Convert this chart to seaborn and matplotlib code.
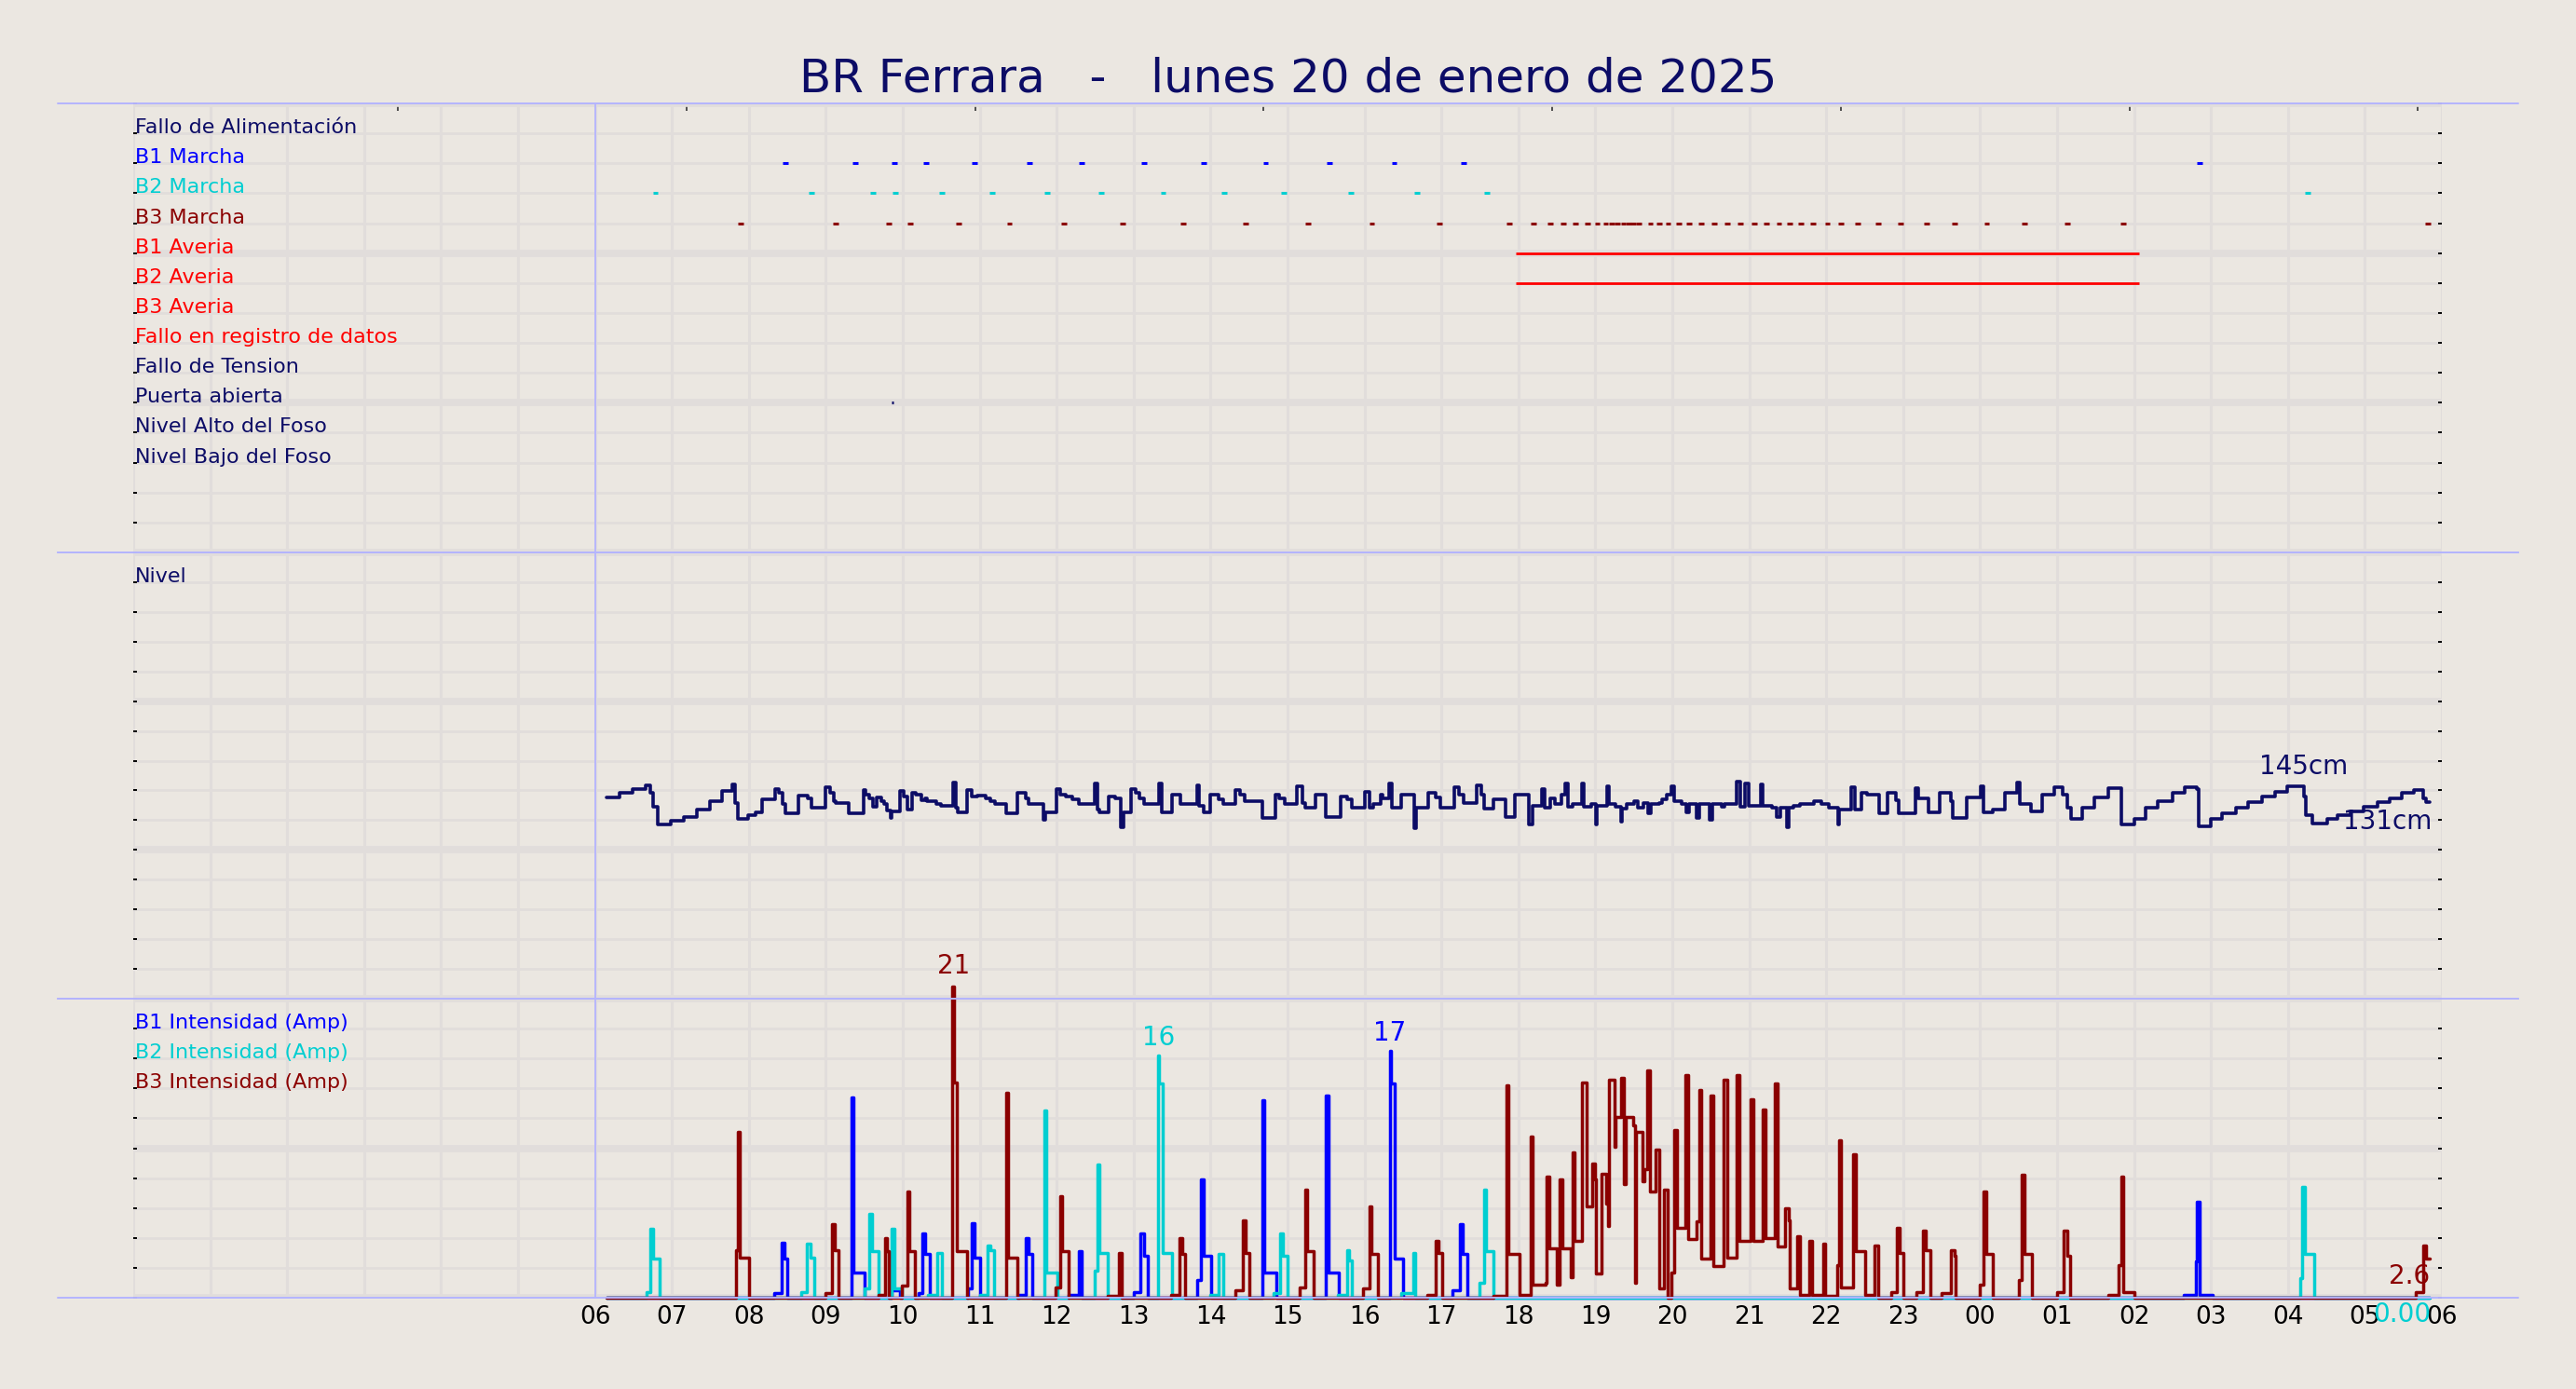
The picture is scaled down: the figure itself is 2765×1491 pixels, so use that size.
import matplotlib
matplotlib.use("Agg")
import matplotlib.pyplot as plt
import seaborn as sns
from matplotlib.lines import Line2D

# eje x: horas desde las 00:00 del 20/01/2025
titulo = "BR Ferrara   -   lunes 20 de enero de 2025"

filas = ["Fallo de Alimentación", "B1 Marcha", "B2 Marcha", "B3 Marcha",
         "B1 Averia", "B2 Averia", "B3 Averia", "Fallo en registro de datos",
         "Fallo de Tension", "Puerta abierta", "Nivel Alto del Foso",
         "Nivel Bajo del Foso"]
navy = "#0c0c66"
azul, cian, granate, rojo = "#0000ff", "#00ced1", "#8b0000", "#ff0000"
colores_filas = [navy, azul, cian, granate, rojo, rojo, rojo, rojo,
                 navy, navy, navy, navy]

# arranques (marcha) de cada bomba
b1_marcha = [8.44, 9.35, 9.86, 10.27, 10.90, 11.61, 12.29, 13.10, 13.88,
             14.68, 15.51, 16.35, 17.25, 26.82]
b2_marcha = [6.75, 8.78, 9.58, 9.87, 10.47, 11.13, 11.84, 12.54, 13.35,
             14.14, 14.92, 15.79, 16.65, 17.56, 28.22]
b3_marcha = [7.86, 9.09, 9.78, 10.06, 10.69, 11.35, 12.06, 12.82, 13.61,
             14.42, 15.23, 16.06, 16.94, 17.85, 18.16, 18.38, 18.55, 18.71,
             18.86, 18.99, 19.10, 19.18, 19.25, 19.33, 19.40, 19.46, 19.53,
             19.68, 19.80, 19.91, 20.05, 20.18, 20.34, 20.51, 20.68, 20.85,
             21.03, 21.19, 21.35, 21.49, 21.64, 21.79, 21.98, 22.16, 22.37,
             22.64, 22.93, 23.27, 23.63, 24.05, 24.54, 25.10, 25.82, 29.78]
puerta_abierta = [9.85]
b1_averia = (17.97, 26.06)
b2_averia = (17.97, 26.06)

# nivel del foso (cm)
nivel = [(6.15, 141.1), (6.32, 142.5), (6.49, 144.0), (6.66, 145.1), (6.72, 142.8),
         (6.76, 138.0), (6.82, 132.1), (6.99, 133.3), (7.16, 134.5), (7.32, 137.0),
         (7.49, 139.7), (7.65, 143.2), (7.78, 145.6), (7.82, 139.3), (7.86, 133.8),
         (7.99, 135.2), (8.09, 136.2), (8.17, 140.6), (8.34, 144.0), (8.39, 142.5),
         (8.44, 139.0), (8.48, 135.9), (8.65, 141.7), (8.76, 140.9), (8.81, 137.8),
         (8.99, 144.5), (9.05, 142.5), (9.10, 139.9), (9.13, 139.3), (9.30, 135.7),
         (9.49, 143.5), (9.52, 141.9), (9.56, 140.9), (9.61, 138.0), (9.66, 141.1),
         (9.72, 139.9), (9.76, 138.8), (9.79, 136.8), (9.84, 134.2), (9.86, 136.5),
         (9.96, 143.2), (10.01, 141.4), (10.06, 137.0), (10.12, 142.5), (10.17, 141.9),
         (10.24, 140.1), (10.29, 140.7), (10.32, 139.7), (10.44, 139.0), (10.50, 138.3),
         (10.65, 146.1), (10.69, 137.8), (10.71, 136.2), (10.83, 143.5), (10.89, 141.4),
         (10.97, 141.7), (11.08, 140.9), (11.14, 139.9), (11.20, 139.0), (11.34, 135.7),
         (11.49, 142.8), (11.60, 140.9), (11.64, 139.0), (11.83, 133.6), (11.85, 136.2),
         (12.00, 143.8), (12.05, 141.9), (12.12, 141.4), (12.20, 140.4), (12.29, 139.0),
         (12.49, 145.9), (12.53, 137.0), (12.56, 136.2), (12.68, 141.4), (12.76, 140.9),
         (12.83, 131.0), (12.87, 136.2), (12.97, 144.0), (13.03, 142.8), (13.08, 140.9),
         (13.13, 139.0), (13.33, 145.9), (13.36, 136.2), (13.50, 142.1), (13.61, 139.0),
         (13.82, 145.1), (13.85, 138.3), (13.91, 136.2), (13.99, 141.9), (14.10, 140.4),
         (14.16, 138.8), (14.32, 143.5), (14.38, 141.9), (14.44, 139.9), (14.67, 134.2),
         (14.84, 142.1), (14.89, 140.9), (14.96, 138.8), (15.12, 144.8), (15.19, 139.3),
         (15.23, 137.6), (15.36, 141.9), (15.50, 134.7), (15.69, 141.4), (15.78, 140.4),
         (15.83, 137.6), (16.00, 143.0), (16.06, 137.8), (16.11, 139.0), (16.21, 141.9),
         (16.24, 140.9), (16.32, 145.9), (16.35, 137.8), (16.48, 142.1), (16.65, 130.7),
         (16.67, 137.8), (16.83, 142.5), (16.92, 141.1), (16.98, 137.6), (17.17, 144.5),
         (17.23, 141.9), (17.29, 139.3), (17.46, 145.1), (17.52, 141.9), (17.56, 137.3),
         (17.68, 140.4), (17.83, 134.7), (17.96, 141.9), (18.14, 132.1), (18.18, 138.3),
         (18.31, 144.0), (18.34, 137.8), (18.41, 140.9), (18.47, 138.8), (18.56, 141.9),
         (18.61, 145.9), (18.64, 138.0), (18.70, 138.8), (18.82, 145.9), (18.85, 138.0),
         (18.95, 138.8), (19.01, 132.1), (19.02, 138.3), (19.15, 144.8), (19.18, 138.8),
         (19.26, 138.0), (19.33, 133.1), (19.35, 137.3), (19.41, 138.8), (19.50, 139.7),
         (19.55, 137.8), (19.63, 139.3), (19.68, 135.7), (19.72, 138.8), (19.83, 139.3),
         (19.87, 140.4), (19.93, 142.1), (19.99, 144.8), (20.03, 139.7), (20.12, 138.8),
         (20.18, 136.2), (20.22, 139.0), (20.32, 134.2), (20.35, 138.8), (20.49, 133.6),
         (20.52, 138.8), (20.64, 138.0), (20.68, 138.8), (20.84, 146.3), (20.88, 138.0),
         (20.95, 145.9), (20.99, 138.3), (21.15, 145.6), (21.18, 138.3), (21.30, 137.8),
         (21.35, 134.7), (21.40, 137.8), (21.49, 131.0), (21.51, 137.8), (21.57, 138.3),
         (21.66, 138.8), (21.84, 139.9), (21.94, 138.8), (22.03, 137.8), (22.16, 132.1),
         (22.17, 137.0), (22.33, 144.5), (22.37, 137.0), (22.46, 142.5), (22.53, 141.9),
         (22.69, 135.9), (22.80, 142.8), (22.90, 140.1), (22.94, 135.9), (23.16, 144.2),
         (23.20, 140.9), (23.33, 136.2), (23.48, 142.5), (23.62, 139.7), (23.65, 134.2),
         (23.82, 141.1), (24.01, 144.8), (24.04, 136.2), (24.16, 137.0), (24.32, 142.5),
         (24.48, 146.1), (24.52, 138.8), (24.66, 136.5), (24.81, 141.9), (24.96, 144.5),
         (25.07, 141.9), (25.13, 137.8), (25.18, 133.8), (25.33, 137.8), (25.49, 141.1),
         (25.66, 144.2), (25.83, 132.1), (26.00, 134.0), (26.15, 137.6), (26.31, 139.9),
         (26.50, 142.5), (26.66, 144.5), (26.82, 144.0), (26.84, 131.6), (27.00, 133.9),
         (27.14, 135.9), (27.32, 137.8), (27.48, 139.6), (27.66, 141.4), (27.83, 143.0),
         (27.99, 144.8), (28.21, 141.4), (28.23, 135.2), (28.32, 132.4), (28.51, 133.9),
         (28.65, 135.2), (28.81, 136.5), (28.98, 138.0), (29.16, 139.6), (29.32, 140.9),
         (29.48, 142.5), (29.64, 143.5), (29.76, 140.9), (29.79, 139.4), (29.84, 139.4)]

# intensidad de cada bomba (A)
b1_amp = [(6.15, 0), (8.33, 0.3), (8.43, 3.7), (8.46, 2.6), (8.50, 0),
          (9.33, 13.4), (9.36, 1.7), (9.50, 0), (9.86, 0.5), (9.96, 0),
          (10.20, 0.3), (10.25, 4.3), (10.29, 2.9), (10.35, 0),
          (10.85, 0.6), (10.90, 5.0), (10.93, 2.7), (11.00, 0),
          (11.51, 0.2), (11.60, 4.0), (11.63, 2.9), (11.68, 0),
          (12.16, 0.2), (12.29, 3.1), (12.33, 0),
          (13.00, 0.4), (13.09, 4.3), (13.13, 2.8), (13.18, 0),
          (13.82, 1.2), (13.88, 7.9), (13.91, 2.8), (14.01, 0),
          (14.67, 13.2), (14.70, 1.7), (14.86, 0),
          (15.50, 13.5), (15.53, 1.7), (15.67, 0),
          (16.33, 16.5), (16.345, 14.3), (16.39, 2.6), (16.50, 0),
          (17.14, 0.5), (17.24, 4.9), (17.27, 2.9), (17.34, 0),
          (26.65, 0.2), (26.80, 2.4), (26.82, 6.4), (26.85, 0.2), (27.02, 0),
          (29.84, 0)]
b2_amp = [(6.15, 0), (6.67, 0.4), (6.72, 4.6), (6.76, 2.6), (6.84, 0),
          (8.68, 0.4), (8.75, 3.6), (8.80, 2.7), (8.85, 0),
          (9.50, 0.6), (9.57, 5.6), (9.60, 3.1), (9.68, 0),
          (9.86, 4.6), (9.89, 0.6), (9.99, 0),
          (10.33, 0.2), (10.45, 3.0), (10.51, 0),
          (11.00, 0.2), (11.10, 3.5), (11.14, 3.2), (11.19, 0),
          (11.84, 12.5), (11.87, 1.7), (12.01, 0),
          (12.49, 1.8), (12.53, 8.9), (12.56, 3.0), (12.66, 0),
          (13.32, 16.2), (13.335, 14.3), (13.38, 3.0), (13.50, 0),
          (13.99, 0.2), (14.11, 2.9), (14.17, 0),
          (14.82, 0.3), (14.90, 4.3), (14.94, 2.8), (15.00, 0),
          (15.65, 0.2), (15.77, 3.2), (15.80, 2.5), (15.83, 0),
          (16.48, 0.3), (16.64, 3.0), (16.66, 0),
          (17.49, 1.0), (17.55, 7.2), (17.58, 3.1), (17.67, 0),
          (28.16, 1.3), (28.19, 7.4), (28.22, 2.9), (28.34, 0), (29.84, 0)]
b3_amp = [(6.15, 0), (7.83, 3.2), (7.86, 11.1), (7.88, 2.7), (8.00, 0),
          (9.00, 0.3), (9.08, 4.9), (9.12, 3.2), (9.16, 0),
          (9.68, 0.2), (9.77, 4.0), (9.79, 3.1), (9.82, 0),
          (9.99, 0.8), (10.06, 7.1), (10.09, 3.1), (10.16, 0),
          (10.64, 20.8), (10.66, 14.4), (10.70, 3.1), (10.84, 0),
          (11.34, 13.7), (11.37, 2.7), (11.49, 0),
          (11.99, 0.7), (12.04, 6.8), (12.07, 3.1), (12.16, 0),
          (12.66, 0.1), (12.81, 3.0), (12.84, 0),
          (13.49, 0.2), (13.60, 4.0), (13.63, 2.9), (13.67, 0),
          (14.32, 0.5), (14.42, 5.2), (14.45, 3.0), (14.50, 0),
          (15.16, 0.7), (15.23, 7.2), (15.26, 3.1), (15.34, 0),
          (15.98, 0.6), (16.06, 6.1), (16.09, 2.9), (16.17, 0),
          (16.81, 0.2), (16.93, 3.8), (16.96, 3.0), (17.01, 0),
          (17.67, 0.1), (17.84, 14.2), (17.87, 2.9), (18.01, 0.2), (18.16, 10.8),
          (18.19, 0.9), (18.35, 1.0), (18.37, 8.1), (18.40, 3.3), (18.50, 0.9),
          (18.53, 7.9), (18.57, 3.3), (18.68, 1.4), (18.71, 9.7), (18.73, 3.8),
          (18.83, 14.4), (18.89, 6.1), (18.96, 9.0), (18.99, 7.9), (19.01, 1.6),
          (19.08, 8.3), (19.14, 6.3), (19.17, 4.8), (19.18, 14.6), (19.25, 10.1),
          (19.26, 12.1), (19.33, 14.7), (19.37, 7.6), (19.40, 12.1), (19.49, 11.5),
          (19.51, 1.0), (19.53, 11.1), (19.61, 7.8), (19.64, 8.6), (19.67, 15.2),
          (19.71, 7.1), (19.78, 9.9), (19.83, 0.6), (19.89, 7.2), (19.94, 0),
          (19.99, 1.7), (20.03, 11.2), (20.06, 4.7), (20.17, 14.9), (20.20, 3.9),
          (20.32, 5.1), (20.35, 13.9), (20.37, 2.6), (20.50, 13.5), (20.53, 2.1),
          (20.67, 14.6), (20.71, 2.7), (20.83, 14.9), (20.87, 3.8), (21.02, 13.3),
          (21.05, 3.8), (21.17, 12.6), (21.21, 4.0), (21.33, 14.3), (21.37, 3.4),
          (21.47, 6.0), (21.51, 5.2), (21.53, 0.6), (21.62, 4.1), (21.66, 0.2),
          (21.78, 3.8), (21.82, 0.2), (21.96, 3.6), (21.99, 0.1), (22.14, 2.2),
          (22.17, 10.5), (22.19, 0.7), (22.35, 9.6), (22.39, 3.1), (22.51, 0.2),
          (22.63, 3.5), (22.67, 0), (22.84, 0.4), (22.92, 4.7), (22.95, 3.0),
          (23.00, 0), (23.17, 0.4), (23.26, 4.5), (23.29, 3.2), (23.35, 0),
          (23.50, 0.3), (23.62, 3.2), (23.67, 2.8), (23.68, 0), (24.00, 0.9),
          (24.04, 7.1), (24.08, 2.9), (24.17, 0), (24.50, 1.2), (24.54, 8.2),
          (24.58, 2.9), (24.67, 0), (25.00, 0.4), (25.08, 4.5), (25.13, 2.8),
          (25.17, 0), (25.67, 0.2), (25.80, 2.2), (25.84, 8.1), (25.86, 0.4),
          (26.00, 0), (29.66, 0.4), (29.76, 3.5), (29.79, 2.6), (29.84, 2.6)]

etiquetas_amp = ["B1 Intensidad (Amp)", "B2 Intensidad (Amp)", "B3 Intensidad (Amp)"]

fondo = "#ebe7e1"
rejilla = "#e1dddb"
borde = "#b4b4ff"

sns.set_style("whitegrid", {"axes.facecolor": fondo, "figure.facecolor": fondo,
                            "grid.color": rejilla})
plt.rcParams["font.family"] = ["DejaVu Sans"]

W, H = 2765, 1491
fig = plt.figure(figsize=(W / 100, H / 100), dpi=100)
x0, ancho = 143 / W, 2478 / W
ax_ev = fig.add_axes([x0, 1 - 593 / H, ancho, 482 / H])
ax_lv = fig.add_axes([x0, 1 - 1072 / H, ancho, 479 / H])
ax_am = fig.add_axes([x0, 1 - 1393 / H, ancho, 321 / H])

niv_lo, niv_hi = 73.9, 222.9
fs_fila = 16


def estilo(ax, ylo, yhi, n):
    ax.set_xlim(0, 30)
    ax.set_ylim(ylo, yhi)
    ax.set_xticks(range(6, 31))
    ax.set_xticks(range(0, 31), minor=True)
    paso = (yhi - ylo) / n
    ax.set_yticks([ylo + k * paso for k in range(0, n + 1, 5)])
    ax.set_yticks([ylo + k * paso for k in range(n + 1)], minor=True)
    ax.grid(False)
    ax.grid(which="both", axis="x", color=rejilla, lw=2.3)
    ax.grid(which="minor", axis="y", color=rejilla, lw=2.0)
    ax.grid(which="major", axis="y", color=rejilla, lw=5.5)
    ax.set_axisbelow(True)
    for s in ax.spines.values():
        s.set_visible(False)
    ax.tick_params(axis="y", which="both", direction="in", left=True, right=True,
                   length=3, width=1.4, color="black", labelleft=False)
    ax.tick_params(axis="x", which="both", length=0, labelbottom=False)
    ax.set_xlabel("")
    ax.set_ylabel("")
    ax.axvline(6, color=borde, lw=1.3)


estilo(ax_ev, 0, 15, 15)
estilo(ax_lv, niv_lo, niv_hi, 15)
estilo(ax_am, 0, 20, 10)

# --- panel de alarmas ---
for i, (txt, c) in enumerate(zip(filas, colores_filas)):
    ax_ev.text(0.02, 14 - i, txt, color=c, fontsize=fs_fila, va="baseline", ha="left")

dur = 0.07
for fila, tiempos, c in [(13, b1_marcha, azul), (12, b2_marcha, cian), (11, b3_marcha, granate),
                         (5, puerta_abierta, navy)]:
    ax_ev.hlines([fila] * len(tiempos), tiempos, [t + (dur if fila != 5 else 0.03) for t in tiempos],
                 color=c, lw=2.2)
ax_ev.hlines(10, *b1_averia, color=rojo, lw=2.0)
ax_ev.hlines(9, *b2_averia, color=rojo, lw=2.0)

sec = ax_ev.secondary_xaxis("top")
sec.set_xticks([3.44, 7.19, 10.94, 14.69, 18.44, 22.19, 25.94, 29.69], labels=[])
sec.tick_params(direction="in", length=6, width=1.2, color="#333333")
for s in sec.spines.values():
    s.set_visible(False)

# --- panel de nivel ---
t_niv, cm_niv = zip(*nivel)
sns.lineplot(x=list(t_niv), y=list(cm_niv), ax=ax_lv, color=navy, lw=2.6,
             drawstyle="steps-post", estimator=None, sort=False)
ax_lv.text(0.02, 14 / 15, "Nivel", color=navy, fontsize=fs_fila, va="baseline", ha="left",
           transform=ax_lv.get_xaxis_transform())
ax_lv.text(28.20, 151.2, "145cm", color=navy, fontsize=20, ha="center", va="center")
ax_lv.text(29.29, 133.0, "131cm", color=navy, fontsize=20, ha="center", va="center")
ax_lv.set_xlabel("")
ax_lv.set_ylabel("")

# --- panel de intensidades ---
for serie, c in [(b1_amp, azul), (b2_amp, cian), (b3_amp, granate)]:
    t, a = zip(*serie)
    sns.lineplot(x=list(t), y=list(a), ax=ax_am, color=c, lw=2.5,
                 drawstyle="steps-post", estimator=None, sort=False)
for ln in ax_am.lines:
    ln.set_clip_on(False)
for k, (txt, c) in enumerate(zip(etiquetas_amp, [azul, cian, granate])):
    ax_am.text(0.02, 18 - 2 * k, txt, color=c, fontsize=fs_fila, va="baseline", ha="left")
ax_am.text(10.66, 22.2, "21", color=granate, fontsize=20, ha="center", va="center", clip_on=False)
ax_am.text(13.32, 17.4, "16", color=cian, fontsize=20, ha="center", va="center")
ax_am.text(16.33, 17.7, "17", color=azul, fontsize=20, ha="center", va="center")
ax_am.text(29.58, 1.43, "2.6", color=granate, fontsize=20, ha="center", va="center")
ax_am.text(29.48, -1.12, "0.00", color=cian, fontsize=20, ha="center", va="center", clip_on=False)
ax_am.set_xticklabels([f"{h % 24:02d}" for h in range(6, 31)])
ax_am.tick_params(axis="x", labelbottom=True, labelsize=19, pad=6, colors="black")
ax_am.set_xlabel("")
ax_am.set_ylabel("")

# bordes azules entre paneles
for ax in (ax_ev, ax_lv, ax_am):
    pos = ax.get_position()
    for yf in (pos.y0, pos.y1):
        fig.add_artist(Line2D([62 / W, 2703 / W], [yf, yf], color=borde, lw=1.4))

fig.text(0.5, 1 - 98.7 / H, titulo, ha="center", va="baseline", fontsize=36, color=navy)

fig.savefig("out.png", dpi=100, facecolor=fondo)
